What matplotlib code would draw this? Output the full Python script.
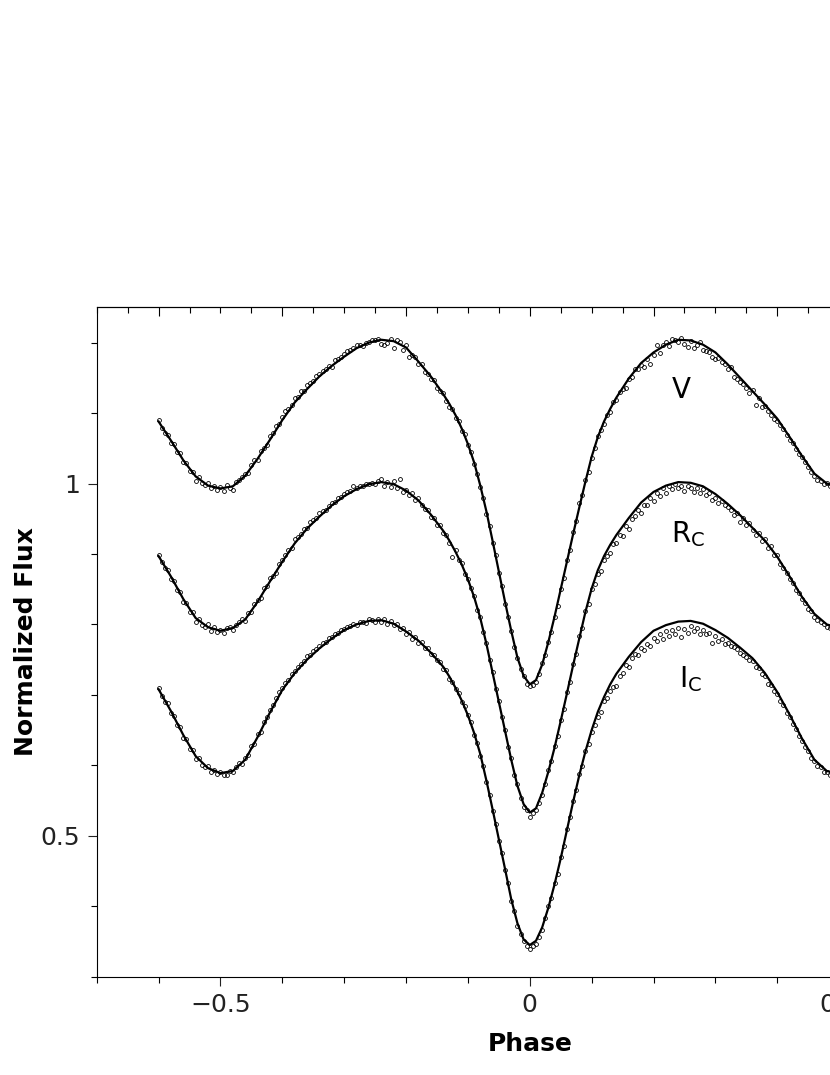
import matplotlib.pyplot as plt
from matplotlib.ticker import MultipleLocator, NullFormatter

# model light curves (solid lines)
model_phase = [-0.60, -0.58, -0.56, -0.54, -0.52, -0.50, -0.48, -0.46, -0.44, -0.42,
               -0.40, -0.38, -0.36, -0.34, -0.32, -0.30, -0.28, -0.26, -0.24, -0.22,
               -0.20, -0.18, -0.16,
               -0.14, -0.13, -0.12, -0.11, -0.10, -0.09, -0.08, -0.07, -0.06, -0.05,
               -0.04, -0.03, -0.02, -0.01, 0.00, 0.01, 0.02, 0.03, 0.04, 0.05,
               0.06, 0.07, 0.08, 0.09, 0.10, 0.11, 0.12, 0.13, 0.14,
               0.16, 0.18, 0.20, 0.22, 0.24, 0.26, 0.28, 0.30, 0.32, 0.34,
               0.36, 0.38, 0.40, 0.42, 0.44, 0.46, 0.48, 0.50, 0.52]
model_v = [1.088, 1.061, 1.033, 1.010, 0.997, 0.993, 0.996, 1.011, 1.035, 1.062,
           1.090, 1.115, 1.134, 1.152, 1.167, 1.180, 1.192, 1.200, 1.204, 1.202,
           1.193, 1.173, 1.152,
           1.127, 1.113, 1.097, 1.078, 1.056, 1.030, 0.997, 0.960, 0.918, 0.875,
           0.832, 0.791, 0.753, 0.727, 0.715, 0.721, 0.743, 0.775, 0.811, 0.850,
           0.889, 0.928, 0.966, 1.003, 1.038, 1.066, 1.088, 1.106, 1.122,
           1.149, 1.171, 1.186, 1.197, 1.204, 1.203, 1.197, 1.186, 1.169, 1.150,
           1.131, 1.112, 1.092, 1.066, 1.039, 1.014, 1.000, 0.994, 0.998]
model_rc = [0.897, 0.868, 0.836, 0.809, 0.796, 0.791, 0.795, 0.807, 0.832, 0.861,
            0.889, 0.915, 0.936, 0.953, 0.969, 0.982, 0.992, 0.999, 1.002, 0.999,
            0.990, 0.976, 0.956,
            0.933, 0.919, 0.903, 0.885, 0.864, 0.839, 0.809, 0.772, 0.731, 0.690,
            0.649, 0.608, 0.571, 0.545, 0.533, 0.539, 0.561, 0.591, 0.625, 0.663,
            0.702, 0.742, 0.780, 0.818, 0.851, 0.877, 0.897, 0.913, 0.927,
            0.951, 0.973, 0.988, 0.997, 1.002, 1.001, 0.996, 0.985, 0.971, 0.955,
            0.937, 0.919, 0.896, 0.868, 0.839, 0.815, 0.800, 0.795, 0.799]
model_ic = [0.708, 0.677, 0.643, 0.613, 0.596, 0.589, 0.592, 0.608, 0.640, 0.675,
            0.707, 0.731, 0.750, 0.766, 0.780, 0.792, 0.800, 0.805, 0.806, 0.801,
            0.790, 0.777, 0.760,
            0.740, 0.726, 0.710, 0.692, 0.671, 0.646, 0.616, 0.578, 0.537, 0.495,
            0.453, 0.410, 0.376, 0.353, 0.345, 0.351, 0.370, 0.398, 0.431, 0.468,
            0.508, 0.548, 0.586, 0.620, 0.650, 0.676, 0.697, 0.715, 0.730,
            0.754, 0.775, 0.791, 0.799, 0.804, 0.805, 0.801, 0.792, 0.781, 0.767,
            0.752, 0.731, 0.704, 0.672, 0.638, 0.608, 0.592, 0.588, 0.593]

# observations (open circles)
obs_phase = [-0.600, -0.595, -0.590, -0.585, -0.580, -0.575, -0.570, -0.565, -0.560, -0.555,
             -0.550, -0.545, -0.540, -0.535, -0.530, -0.525, -0.520, -0.515, -0.510, -0.505,
             -0.500, -0.495, -0.490, -0.485, -0.480, -0.475, -0.470, -0.465, -0.460, -0.455,
             -0.450, -0.445, -0.440, -0.435, -0.430, -0.425, -0.420, -0.415, -0.410, -0.405,
             -0.400, -0.395, -0.390, -0.385, -0.380, -0.375, -0.370, -0.365, -0.360, -0.355,
             -0.350, -0.345, -0.340, -0.335, -0.330, -0.325, -0.320, -0.315, -0.310, -0.305,
             -0.300, -0.295, -0.290, -0.285, -0.280, -0.275, -0.270, -0.265, -0.260, -0.255,
             -0.250, -0.245, -0.240, -0.235, -0.230, -0.225, -0.220, -0.215, -0.210, -0.205,
             -0.200, -0.195, -0.190, -0.185, -0.180, -0.175, -0.170, -0.165, -0.160, -0.155,
             -0.150, -0.145, -0.140, -0.135, -0.130, -0.125, -0.120, -0.115, -0.110, -0.105,
             -0.100, -0.095, -0.090, -0.085, -0.080, -0.075, -0.070, -0.065, -0.060, -0.055,
             -0.050, -0.045, -0.040, -0.035, -0.030, -0.025, -0.020, -0.015, -0.010, -0.005,
             0.000, 0.005, 0.010, 0.015, 0.020, 0.025, 0.030, 0.035, 0.040, 0.045,
             0.050, 0.055, 0.060, 0.065, 0.070, 0.075, 0.080, 0.085, 0.090, 0.095,
             0.100, 0.105, 0.110, 0.115, 0.120, 0.125, 0.130, 0.135, 0.140, 0.145,
             0.150, 0.155, 0.160, 0.165, 0.170, 0.175, 0.180, 0.185, 0.190, 0.195,
             0.200, 0.205, 0.210, 0.215, 0.220, 0.225, 0.230, 0.235, 0.240, 0.245,
             0.250, 0.255, 0.260, 0.265, 0.270, 0.275, 0.280, 0.285, 0.290, 0.295,
             0.300, 0.305, 0.310, 0.315, 0.320, 0.325, 0.330, 0.335, 0.340, 0.345,
             0.350, 0.355, 0.360, 0.365, 0.370, 0.375, 0.380, 0.385, 0.390, 0.395,
             0.400, 0.405, 0.410, 0.415, 0.420, 0.425, 0.430, 0.435, 0.440, 0.445,
             0.450, 0.455, 0.460, 0.465, 0.470, 0.475, 0.480, 0.485, 0.490]
obs_v = [1.090, 1.079, 1.072, 1.069, 1.058, 1.056, 1.044, 1.043, 1.030, 1.029,
         1.018, 1.017, 1.004, 1.009, 1.001, 0.998, 1.001, 0.994, 0.997, 0.991,
         0.995, 0.990, 0.998, 0.993, 0.991, 1.002, 1.005, 1.009, 1.013, 1.015,
         1.026, 1.033, 1.034, 1.046, 1.051, 1.055, 1.068, 1.071, 1.081, 1.085,
         1.094, 1.103, 1.106, 1.111, 1.122, 1.123, 1.131, 1.131, 1.140, 1.142,
         1.146, 1.153, 1.155, 1.159, 1.163, 1.167, 1.166, 1.175, 1.176, 1.180,
         1.184, 1.188, 1.190, 1.192, 1.196, 1.197, 1.195, 1.199, 1.201, 1.204,
         1.203, 1.205, 1.198, 1.196, 1.199, 1.205, 1.193, 1.203, 1.201, 1.190,
         1.196, 1.180, 1.182, 1.179, 1.170, 1.169, 1.158, 1.156, 1.148, 1.147,
         1.135, 1.131, 1.129, 1.117, 1.108, 1.106, 1.093, 1.089, 1.074, 1.070,
         1.054, 1.044, 1.028, 1.014, 0.995, 0.979, 0.957, 0.940, 0.916, 0.898,
         0.873, 0.855, 0.829, 0.811, 0.791, 0.768, 0.753, 0.737, 0.727, 0.716,
         0.713, 0.714, 0.718, 0.729, 0.745, 0.756, 0.775, 0.789, 0.810, 0.826,
         0.850, 0.866, 0.891, 0.906, 0.931, 0.947, 0.972, 0.984, 1.005, 1.017,
         1.036, 1.050, 1.067, 1.076, 1.085, 1.097, 1.102, 1.115, 1.118, 1.130,
         1.134, 1.136, 1.149, 1.151, 1.163, 1.162, 1.168, 1.166, 1.177, 1.170,
         1.183, 1.196, 1.185, 1.197, 1.201, 1.195, 1.205, 1.203, 1.201, 1.206,
         1.198, 1.194, 1.202, 1.192, 1.196, 1.201, 1.190, 1.188, 1.186, 1.180,
         1.177, 1.178, 1.172, 1.169, 1.163, 1.165, 1.151, 1.149, 1.144, 1.141,
         1.136, 1.128, 1.133, 1.112, 1.121, 1.108, 1.110, 1.103, 1.097, 1.092,
         1.088, 1.083, 1.078, 1.069, 1.062, 1.057, 1.049, 1.042, 1.037, 1.030,
         1.024, 1.016, 1.011, 1.005, 1.003, 0.999, 1.001, 0.996, 0.999]
obs_rc = [0.899, 0.888, 0.880, 0.877, 0.865, 0.862, 0.849, 0.846, 0.832, 0.831,
          0.818, 0.817, 0.803, 0.807, 0.799, 0.797, 0.800, 0.791, 0.796, 0.789,
          0.792, 0.788, 0.795, 0.797, 0.792, 0.799, 0.804, 0.807, 0.805, 0.816,
          0.818, 0.829, 0.834, 0.838, 0.851, 0.855, 0.866, 0.869, 0.873, 0.886,
          0.891, 0.899, 0.906, 0.908, 0.921, 0.924, 0.929, 0.935, 0.937, 0.945,
          0.948, 0.951, 0.958, 0.961, 0.963, 0.968, 0.972, 0.974, 0.980, 0.981,
          0.985, 0.988, 0.990, 0.997, 0.994, 0.996, 0.997, 0.999, 1.000, 1.001,
          0.999, 1.003, 1.006, 0.996, 1.002, 0.995, 1.004, 0.993, 1.006, 0.988,
          0.991, 0.983, 0.986, 0.977, 0.979, 0.969, 0.964, 0.963, 0.952, 0.951,
          0.941, 0.941, 0.930, 0.927, 0.915, 0.895, 0.906, 0.891, 0.887, 0.872,
          0.865, 0.851, 0.841, 0.821, 0.811, 0.789, 0.774, 0.749, 0.733, 0.708,
          0.692, 0.668, 0.650, 0.626, 0.610, 0.587, 0.573, 0.554, 0.541, 0.536,
          0.527, 0.532, 0.537, 0.546, 0.558, 0.574, 0.593, 0.606, 0.627, 0.642,
          0.665, 0.680, 0.704, 0.719, 0.744, 0.758, 0.783, 0.795, 0.819, 0.829,
          0.850, 0.857, 0.871, 0.876, 0.891, 0.897, 0.901, 0.914, 0.915, 0.927,
          0.926, 0.940, 0.936, 0.950, 0.954, 0.962, 0.958, 0.970, 0.969, 0.979,
          0.975, 0.986, 0.982, 0.993, 0.986, 0.996, 0.992, 1.000, 0.994, 0.997,
          0.990, 0.996, 0.993, 0.988, 0.994, 0.986, 0.992, 0.983, 0.987, 0.977,
          0.980, 0.972, 0.975, 0.969, 0.966, 0.962, 0.955, 0.958, 0.946, 0.951,
          0.941, 0.944, 0.934, 0.927, 0.930, 0.918, 0.921, 0.908, 0.911, 0.898,
          0.898, 0.886, 0.880, 0.873, 0.865, 0.859, 0.849, 0.844, 0.836, 0.831,
          0.822, 0.819, 0.811, 0.806, 0.803, 0.801, 0.797, 0.795, 0.794]
obs_ic = [0.710, 0.698, 0.690, 0.688, 0.674, 0.670, 0.657, 0.655, 0.639, 0.637,
          0.623, 0.622, 0.609, 0.611, 0.601, 0.598, 0.599, 0.591, 0.594, 0.588,
          0.590, 0.586, 0.587, 0.592, 0.590, 0.598, 0.603, 0.602, 0.611, 0.614,
          0.627, 0.631, 0.644, 0.648, 0.662, 0.668, 0.679, 0.685, 0.695, 0.704,
          0.710, 0.717, 0.721, 0.730, 0.734, 0.740, 0.744, 0.748, 0.755, 0.756,
          0.762, 0.765, 0.770, 0.774, 0.775, 0.781, 0.782, 0.787, 0.788, 0.792,
          0.794, 0.797, 0.798, 0.801, 0.799, 0.803, 0.804, 0.802, 0.807, 0.806,
          0.804, 0.808, 0.803, 0.807, 0.801, 0.805, 0.799, 0.801, 0.793, 0.795,
          0.787, 0.789, 0.780, 0.782, 0.773, 0.775, 0.767, 0.766, 0.758, 0.757,
          0.749, 0.747, 0.737, 0.735, 0.722, 0.719, 0.708, 0.703, 0.690, 0.684,
          0.671, 0.661, 0.643, 0.632, 0.613, 0.599, 0.576, 0.558, 0.535, 0.517,
          0.493, 0.475, 0.451, 0.433, 0.408, 0.393, 0.372, 0.361, 0.351, 0.343,
          0.339, 0.343, 0.347, 0.356, 0.366, 0.383, 0.400, 0.412, 0.433, 0.446,
          0.470, 0.485, 0.510, 0.526, 0.550, 0.565, 0.588, 0.599, 0.621, 0.630,
          0.648, 0.657, 0.668, 0.676, 0.691, 0.696, 0.706, 0.711, 0.713, 0.727,
          0.731, 0.742, 0.740, 0.752, 0.758, 0.756, 0.766, 0.764, 0.772, 0.770,
          0.781, 0.776, 0.786, 0.780, 0.790, 0.783, 0.792, 0.787, 0.795, 0.782,
          0.794, 0.788, 0.798, 0.791, 0.795, 0.787, 0.792, 0.786, 0.788, 0.774,
          0.783, 0.777, 0.779, 0.772, 0.773, 0.769, 0.768, 0.765, 0.759, 0.757,
          0.754, 0.749, 0.748, 0.739, 0.738, 0.729, 0.727, 0.716, 0.714, 0.705,
          0.701, 0.691, 0.685, 0.675, 0.669, 0.659, 0.652, 0.642, 0.635, 0.626,
          0.620, 0.611, 0.606, 0.599, 0.597, 0.591, 0.590, 0.587, 0.589]

band_names = ['V', r'R$_\mathregular{C}$', r'I$_\mathregular{C}$']
name_phase = [0.2445, 0.2566, 0.2604]
name_flux = [1.121, 0.917, 0.711]

fig = plt.figure(figsize=(8.3, 10.75), dpi=100)
# the original axes run past the right edge of the picture
ax = fig.add_axes([0.1165, 0.0914, 1.0436, 0.6227])

for flux in (model_v, model_rc, model_ic):
    ax.plot(model_phase, flux, color='black', lw=1.6, zorder=2)
for flux in (obs_v, obs_rc, obs_ic):
    ax.plot(obs_phase, flux, 'o', mfc='none', mec='black', ms=2.8, mew=0.6, zorder=3)

for name, x, y in zip(band_names, name_phase, name_flux):
    ax.text(x, y, name, fontsize=20, ha='center', va='baseline')

ax.set_xlim(-0.7, 0.7)
ax.set_ylim(0.3, 1.25)

ax.set_xticks([-0.5, 0, 0.5])
ax.set_xticklabels(['\u22120.5', '0', '0.5'])
ax.xaxis.set_minor_locator(MultipleLocator(0.1))
ax.set_yticks([0.5, 1.0])
ax.set_yticklabels(['0.5', '1'])
ax.yaxis.set_minor_locator(MultipleLocator(0.1))
ax.tick_params(which='major', length=6.7, width=0.8, labelsize=18, pad=5, colors='#222222')
ax.tick_params(which='minor', length=4.0, width=0.8)

top = ax.secondary_xaxis('top')
top.xaxis.set_major_locator(MultipleLocator(0.2))
top.xaxis.set_minor_locator(MultipleLocator(0.05))
top.xaxis.set_major_formatter(NullFormatter())
top.tick_params(which='major', direction='in', length=6.5, width=0.8)
top.tick_params(which='minor', direction='in', length=4.0, width=0.8)

ax.set_xlabel('Phase', fontsize=18, fontweight='bold')
ax.set_ylabel('Normalized Flux', fontsize=18, fontweight='bold')
ax.xaxis.set_label_coords(0.5, -0.082)
ax.yaxis.set_label_coords(-0.068, 0.5)

fig.savefig('out.png', dpi=100)
